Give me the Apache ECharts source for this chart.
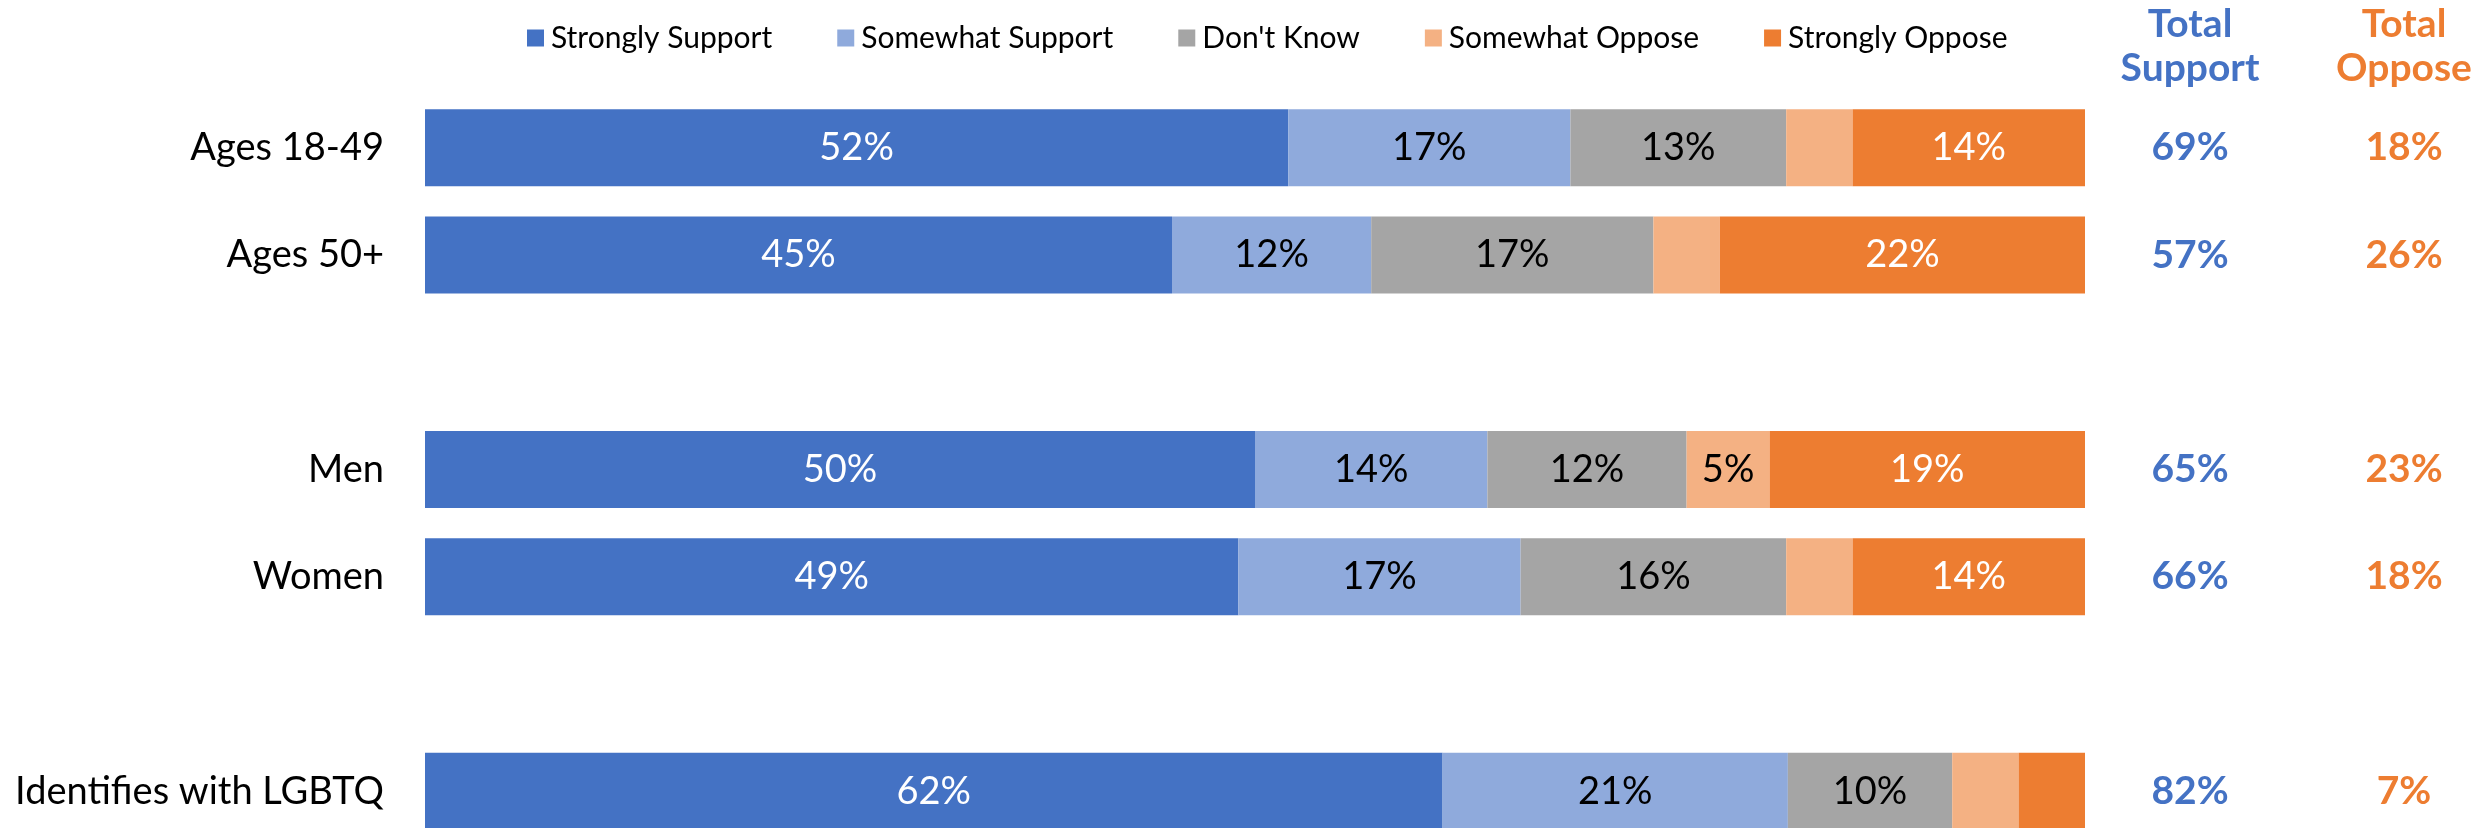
<!DOCTYPE html>
<html>
<head>
<meta charset="utf-8">
<script src="https://cdn.jsdelivr.net/npm/echarts@6/dist/echarts.min.js"></script>
<style>
html,body{margin:0;padding:0;background:#fff;}
#chart{width:2484px;height:828px;}
</style>
</head>
<body>
<div id="chart"></div>
<script>
// ---- data ----
const categories = ['Ages 18-49', 'Ages 50+', '', 'Men', 'Women', '', 'Identifies with LGBTQ'];
const seriesNames = ['Strongly Support', 'Somewhat Support', "Don't Know", 'Somewhat Oppose', 'Strongly Oppose'];
const stronglySupport = [52, 45, '-', 50, 49, '-', 61.3];
const somewhatSupport = [17, 12, '-', 14, 17, '-', 20.8];
const dontKnow        = [13, 17, '-', 12, 16, '-', 9.9];
const somewhatOppose  = [4, 4, '-', 5, 4, '-', 4];
const stronglyOppose  = [14, 22, '-', 19, 14, '-', 4];
// printed segment labels (null = no label shown)
const stronglySupportLbl = [52, 45, null, 50, 49, null, 62];
const somewhatSupportLbl = [17, 12, null, 14, 17, null, 21];
const dontKnowLbl        = [13, 17, null, 12, 16, null, 10];
const somewhatOpposeLbl  = [null, null, null, 5, null, null, null];
const stronglyOpposeLbl  = [14, 22, null, 19, 14, null, null];
const totalColumns = ['Total\nSupport', 'Total\nOppose'];
const totalSupport = [69, 57, null, 65, 66, null, 82];
const totalOppose  = [18, 26, null, 23, 18, null, 7];

// ---- styling ----
const colors = ['#4472C4', '#8FAADC', '#A5A5A5', '#F4B183', '#ED7D31'];
const labelColors = ['#ffffff', '#000000', '#000000', '#000000', '#ffffff'];
const FONT = 'Lato, "Open Sans", sans-serif';
const values = [stronglySupport, somewhatSupport, dontKnow, somewhatOppose, stronglyOppose];
const labels = [stronglySupportLbl, somewhatSupportLbl, dontKnowLbl, somewhatOpposeLbl, stronglyOpposeLbl];

const chart = echarts.init(document.getElementById('chart'), null, {renderer: 'canvas'});

const barSeries = seriesNames.map((name, si) => ({
  name: name,
  type: 'bar',
  stack: 'total',
  xAxisIndex: 0,
  yAxisIndex: 0,
  barWidth: 77,
  data: values[si],
  itemStyle: {color: colors[si]},
  label: {
    show: true,
    position: 'inside',
    color: labelColors[si],
    fontFamily: FONT,
    fontSize: 38,
    formatter: p => {
      const v = labels[si][p.dataIndex];
      return v == null ? '' : v + '%';
    }
  },
  emphasis: {disabled: true}
}));

function totalsSeries(arr, colIdx, color) {
  const data = [];
  arr.forEach((v, i) => { if (v != null) data.push([colIdx, i, v]); });
  return {
    type: 'scatter',
    xAxisIndex: 1,
    yAxisIndex: 1,
    symbolSize: 1,
    itemStyle: {color: 'rgba(0,0,0,0)', opacity: 1},
    data: data,
    label: {
      show: true,
      position: 'inside',
      color: color,
      opacity: 1,
      fontFamily: FONT,
      fontWeight: 'bold',
      fontSize: 39,
      formatter: p => p.value[2] + '%'
    },
    emphasis: {disabled: true}
  };
}

const option = {
  animation: false,
  backgroundColor: '#ffffff',
  legend: {
    data: seriesNames,
    left: 522,
    top: 18,
    icon: 'rect',
    itemWidth: 17,
    itemHeight: 17,
    itemGap: 65,
    textStyle: {fontFamily: FONT, fontSize: 30, color: '#000', padding: [0, 0, 0, 2]},
    selectedMode: false
  },
  grid: [
    {left: 425, width: 1660, top: 94, height: 751, containLabel: false, outerBoundsMode: 'none'},
    {left: 2083, width: 428, top: 94, height: 751, containLabel: false, outerBoundsMode: 'none'}
  ],
  xAxis: [
    {type: 'value', gridIndex: 0, min: 0, max: 100, show: false},
    {
      type: 'category', gridIndex: 1, position: 'top', data: totalColumns,
      axisLine: {show: false}, axisTick: {show: false}, splitLine: {show: false},
      axisLabel: {
        show: true, margin: 4, interval: 0,
        fontFamily: FONT, fontWeight: 'bold', fontSize: 39, lineHeight: 44,
        color: (val, idx) => idx === 0 ? '#4472C4' : '#ED7D31'
      }
    }
  ],
  yAxis: [
    {
      type: 'category', gridIndex: 0, data: categories, inverse: true,
      axisLine: {show: false}, axisTick: {show: false}, splitLine: {show: false},
      axisLabel: {margin: 41, interval: 0, fontFamily: FONT, fontSize: 38, color: '#000'}
    },
    {
      type: 'category', gridIndex: 1, data: categories, inverse: true, show: false
    }
  ],
  series: barSeries.concat([
    totalsSeries(totalSupport, 0, '#4472C4'),
    totalsSeries(totalOppose, 1, '#ED7D31')
  ])
};
chart.setOption(option);
</script>
</body>
</html>
